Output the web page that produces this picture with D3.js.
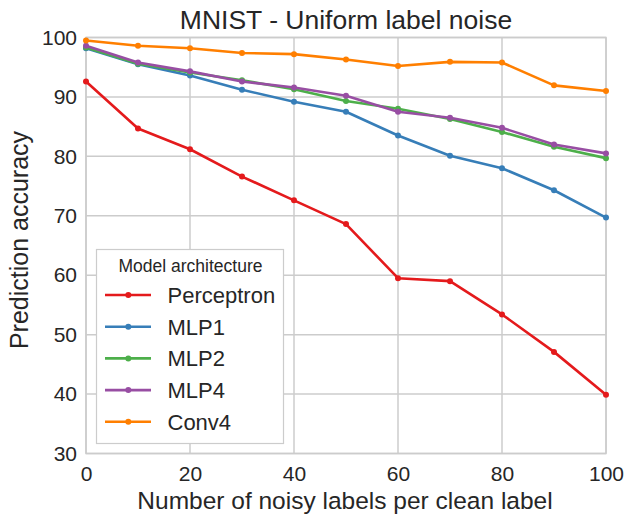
<!DOCTYPE html>
<html><head><meta charset="utf-8">
<script src="https://cdn.jsdelivr.net/npm/d3@7"></script>
<style>body{margin:0;background:#fff}svg{display:block;font-family:"Liberation Sans",Arial,sans-serif}</style>
</head><body><svg id="c" width="630" height="516"></svg>
<script>
const xValues = [0,10,20,30,40,50,60,70,80,90,100];
const seriesNames = ["Perceptron","MLP1","MLP2","MLP4","Conv4"];
const perceptron = [92.6,84.7,81.2,76.6,72.6,68.6,59.5,59.0,53.4,47.1,39.9];
const mlp1 = [98.2,95.5,93.6,91.2,89.2,87.5,83.5,80.1,78.0,74.3,69.7];
const mlp2 = [98.3,95.6,94.1,92.8,91.3,89.3,88.0,86.3,84.1,81.6,79.7];
const mlp4 = [98.6,95.8,94.3,92.6,91.6,90.2,87.5,86.5,84.8,82.0,80.5];
const conv4 = [99.5,98.6,98.2,97.4,97.2,96.3,95.2,95.9,95.8,91.95,91.0];
const colors = ["#e41a1c","#377eb8","#4daf4a","#984ea3","#ff7f00"];
const xTicks = [0,20,40,60,80,100];
const yTicks = [30,40,50,60,70,80,90,100];

const seriesData = [perceptron, mlp1, mlp2, mlp4, conv4];
const svg = d3.select("#c");
const L=86, R=606, T=37.5, B=453.5;
const x = d3.scaleLinear().domain([0,100]).range([L,R]);
const y = d3.scaleLinear().domain([30,100]).range([B,T]);
const text="#262626", grid="#cccccc";

// grid
const g = svg.append("g");
g.selectAll(".gx").data(xTicks).join("line").attr("x1",d=>x(d)).attr("x2",d=>x(d)).attr("y1",T).attr("y2",B).attr("stroke",grid).attr("stroke-width",1.5);
g.selectAll(".gy").data(yTicks).join("line").attr("y1",d=>y(d)).attr("y2",d=>y(d)).attr("x1",L).attr("x2",R).attr("stroke",grid).attr("stroke-width",1.5);
g.append("rect").attr("x",L).attr("y",T).attr("width",R-L).attr("height",B-T).attr("fill","none").attr("stroke",grid).attr("stroke-width",1.5);

// axes (text via d3 axes)
const xa = svg.append("g").attr("transform",`translate(0,${B})`).call(d3.axisBottom(x).tickValues(xTicks).tickSize(0).tickPadding(13));
const ya = svg.append("g").attr("transform",`translate(${L},0)`).call(d3.axisLeft(y).tickValues(yTicks).tickSize(0).tickPadding(9));
[xa,ya].forEach(a=>{a.select(".domain").remove();a.selectAll("text").attr("fill",text).style("font-size","21px").style("font-family","Liberation Sans, Arial, sans-serif");});

// lines
const line = d3.line().x((d,i)=>x(xValues[i])).y(d=>y(d));
seriesData.forEach((s,k)=>{
  svg.append("path").datum(s).attr("d",line).attr("fill","none").attr("stroke",colors[k]).attr("stroke-width",2.6).attr("stroke-linejoin","round");
  svg.append("g").selectAll("circle").data(s).join("circle").attr("cx",(d,i)=>x(xValues[i])).attr("cy",d=>y(d)).attr("r",3).attr("fill",colors[k]);
});

// titles
svg.append("text").attr("x",346).attr("y",29).attr("text-anchor","middle").attr("fill",text).style("font-size","26.5px").text("MNIST - Uniform label noise");
svg.append("text").attr("x",345).attr("y",509).attr("text-anchor","middle").attr("fill",text).style("font-size","24.5px").text("Number of noisy labels per clean label");
svg.append("text").attr("transform",`translate(27.5,240) rotate(-90)`).attr("text-anchor","middle").attr("fill",text).style("font-size","25px").text("Prediction accuracy");

// legend
const lg = svg.append("g");
lg.append("rect").attr("x",96.5).attr("y",249.5).attr("width",187).attr("height",194).attr("fill","#fff").attr("stroke",grid).attr("stroke-width",1.2);
lg.append("text").attr("x",190.5).attr("y",272).attr("text-anchor","middle").attr("fill",text).style("font-size","17.5px").text("Model architecture");
seriesNames.forEach((n,k)=>{
  const cy = 295 + k*31.7;
  lg.append("line").attr("x1",105).attr("x2",151).attr("y1",cy).attr("y2",cy).attr("stroke",colors[k]).attr("stroke-width",2.6);
  lg.append("circle").attr("cx",128.3).attr("cy",cy).attr("r",3).attr("fill",colors[k]);
  lg.append("text").attr("x",167.5).attr("y",cy).attr("dy","0.36em").attr("fill",text).style("font-size","22px").text(n);
});
</script></body></html>
